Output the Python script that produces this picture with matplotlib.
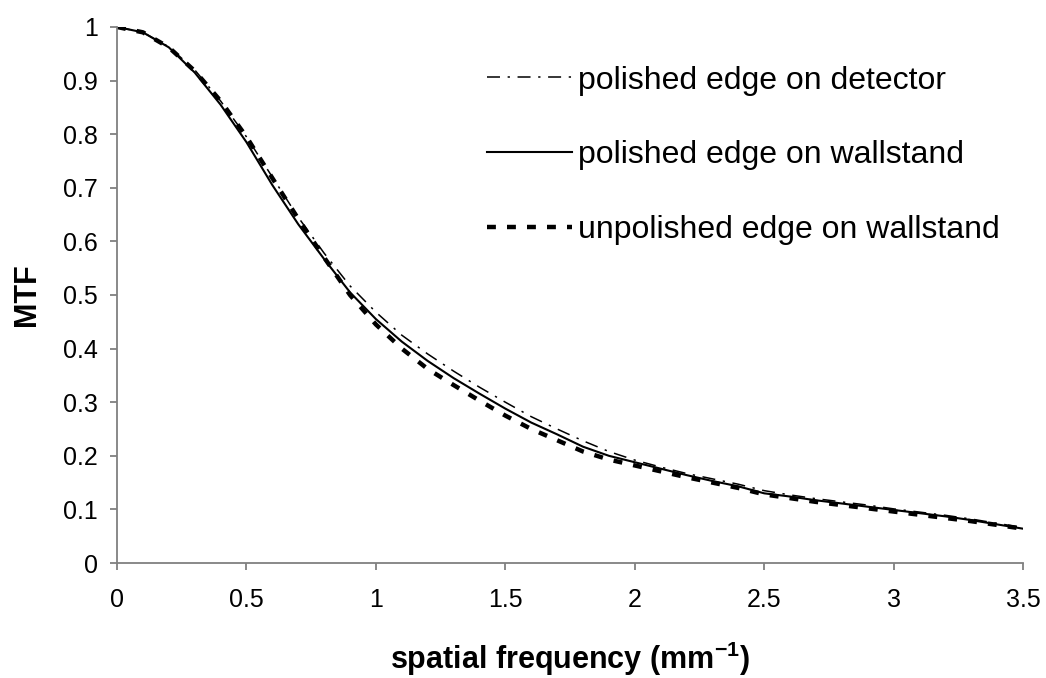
import matplotlib
matplotlib.use("Agg")
import matplotlib.pyplot as plt

plt.rcParams["font.family"] = ["Liberation Sans", "DejaVu Sans"]
plt.rcParams["mathtext.fontset"] = "custom"
plt.rcParams["mathtext.rm"] = "Liberation Sans"
plt.rcParams["mathtext.bf"] = "Liberation Sans:bold"

freq = [0.0, 0.1, 0.2, 0.3, 0.4, 0.5, 0.6, 0.7, 0.8, 0.9, 1.0, 1.1, 1.2,
        1.3, 1.4, 1.5, 1.6, 1.7, 1.8, 1.9, 2.0, 2.1, 2.2, 2.3, 2.4, 2.5,
        2.6, 2.7, 2.8, 2.9, 3.0, 3.1, 3.2, 3.3, 3.4, 3.5]

mtf_detector = [1.0, 0.99, 0.963, 0.92, 0.862, 0.795, 0.72, 0.645, 0.578, 0.517,
                0.468, 0.425, 0.39, 0.358, 0.328, 0.3, 0.273, 0.25, 0.228, 0.208,
                0.192, 0.179, 0.167, 0.157, 0.147, 0.135, 0.127, 0.12, 0.114,
                0.108, 0.101, 0.095, 0.089, 0.082, 0.074, 0.066]

mtf_wallstand = [1.0, 0.99, 0.962, 0.915, 0.855, 0.785, 0.705, 0.632, 0.567, 0.505,
                 0.455, 0.413, 0.377, 0.345, 0.316, 0.288, 0.262, 0.24, 0.217, 0.2,
                 0.188, 0.176, 0.164, 0.153, 0.143, 0.13, 0.124, 0.117, 0.111,
                 0.105, 0.099, 0.093, 0.087, 0.08, 0.072, 0.064]

mtf_unpolished = [1.0, 0.99, 0.962, 0.918, 0.862, 0.795, 0.718, 0.642, 0.57, 0.5,
                  0.445, 0.4, 0.362, 0.332, 0.303, 0.275, 0.25, 0.229, 0.208, 0.193,
                  0.182, 0.171, 0.16, 0.15, 0.14, 0.128, 0.121, 0.114, 0.108,
                  0.102, 0.096, 0.09, 0.084, 0.078, 0.071, 0.064]

fig = plt.figure(figsize=(10.46, 6.78), dpi=100)
ax = fig.add_axes([0.1119, 0.1696, 0.8662, 0.7906])

ax.plot(freq, mtf_detector, color="black", lw=1.1, ls=(0, (8.5, 5, 1.5, 5)),
        label="polished edge on detector")
ax.plot(freq, mtf_wallstand, color="black", lw=1.5, ls="-",
        label="polished edge on wallstand")
ax.plot(freq, mtf_unpolished, color="black", lw=3.2, ls=(0, (2, 2.5)),
        label="unpolished edge on wallstand")

ax.set_xlim(0, 3.5)
ax.set_ylim(0, 1)
ax.set_xticks([0, 0.5, 1, 1.5, 2, 2.5, 3, 3.5])
ax.set_xticklabels(["0", "0.5", "1", "1.5", "2", "2.5", "3", "3.5"])
ax.set_yticks([i / 10 for i in range(11)])
ax.set_yticklabels(["0"] + [f"{i / 10:g}" for i in range(1, 10)] + ["1"])

for side in ("top", "right"):
    ax.spines[side].set_visible(False)
for side in ("left", "bottom"):
    ax.spines[side].set_color("#808080")
    ax.spines[side].set_linewidth(1.3)
ax.tick_params(direction="out", length=5, width=1.3, color="#808080",
               labelsize=18)
ax.tick_params(axis="y", pad=9)
ax.tick_params(axis="x", pad=13)

ax.set_xlabel("spatial frequency (mm$^{\\mathbf{-1}}$)", fontsize=22,
              fontweight="bold", labelpad=20)
ax.set_ylabel("MTF", fontsize=22, fontweight="bold", labelpad=15)

ax.legend(loc="upper left", bbox_to_anchor=(0.408, 0.928), frameon=False,
          fontsize=23, handlelength=2.66, handletextpad=0.19,
          labelspacing=1.4, borderpad=0, borderaxespad=0)

fig.savefig("out.png", dpi=100)
